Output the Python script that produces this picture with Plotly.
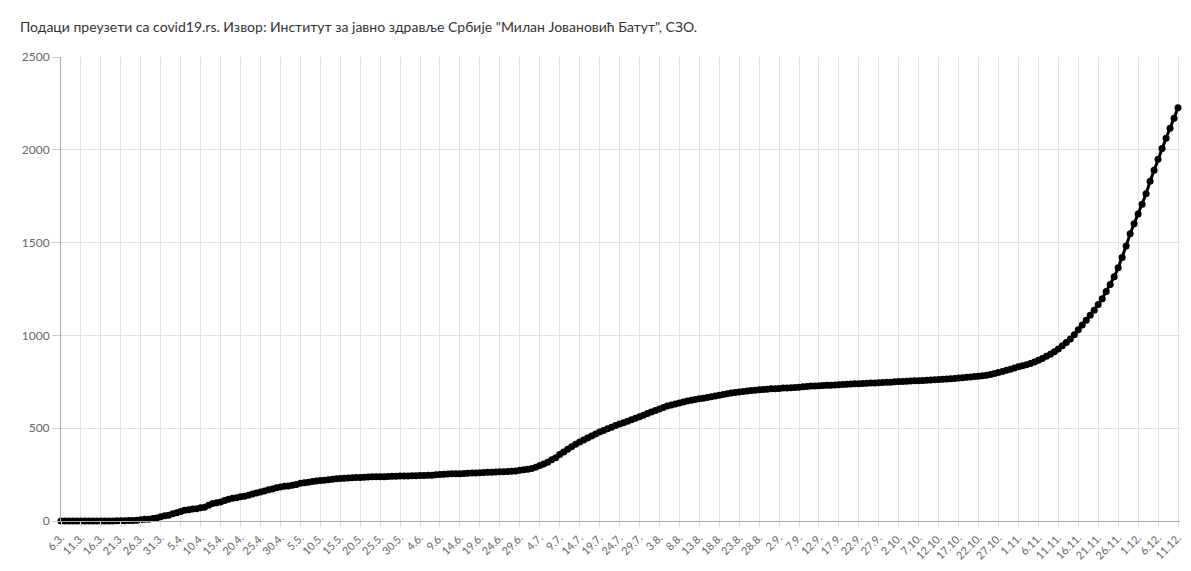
import pandas as pd
from plotly import graph_objects as go

# cumulative deaths, one value per day from 6.3.2020 to 11.12.2020
march = [0] * 14 + [1, 1, 2, 3, 3, 4, 7, 9, 10, 13, 16, 23]
april = [28, 31, 39, 44, 51, 58, 61, 65, 66, 71, 74, 85, 94, 99, 103,
         110, 117, 122, 125, 130, 134, 139, 145, 151, 156, 162, 168, 173, 179, 183]
may = [187, 189, 193, 197, 203, 206, 209, 213, 216, 218, 220, 222, 225, 228, 229,
       230, 232, 233, 234, 235, 236, 237, 238, 238, 239, 239, 240, 241, 241, 242, 243]
june = [243, 244, 244, 245, 245, 246, 247, 249, 250, 252, 253, 254, 254, 255, 256,
        257, 258, 259, 260, 261, 262, 263, 264, 265, 265, 267, 268, 270, 273, 276]
july = [279, 283, 290, 299, 307, 317, 330, 341, 358, 372, 386, 400, 413, 425, 436,
        447, 458, 469, 479, 488, 497, 505, 514, 522, 530, 538, 546, 554, 562, 570, 579]
august = [587, 596, 604, 612, 619, 625, 631, 636, 641, 646, 651, 655, 659, 662, 666,
          669, 673, 677, 681, 685, 689, 692, 695, 698, 701, 703, 705, 707, 709, 710, 712]
september = [713, 714, 716, 717, 718, 719, 721, 723, 725, 727, 728, 729, 730, 731, 732,
             733, 734, 736, 737, 738, 739, 740, 741, 742, 743, 744, 745, 746, 747, 748]
october = [750, 751, 752, 753, 754, 755, 756, 757, 758, 760, 761, 762, 764, 765, 767,
           768, 770, 772, 774, 776, 778, 780, 782, 785, 790, 795, 800, 806, 812, 818, 824]
november = [831, 836, 842, 849, 857, 866, 876, 887, 899, 912, 927, 944, 962, 981, 1004,
            1030, 1056, 1082, 1108, 1135, 1166, 1198, 1236, 1274, 1316, 1364, 1420, 1482, 1548, 1602]
december = [1654, 1706, 1763, 1830, 1890, 1949, 2007, 2062, 2116, 2170, 2227]

deaths = march + april + may + june + july + august + september + october + november + december
days = pd.date_range("2020-03-06", periods=len(deaths), freq="D")

tick_labels = ["6.3.", "11.3.", "16.3.", "21.3.", "26.3.", "31.3.", "5.4.", "10.4.", "15.4.",
               "20.4.", "25.4.", "30.4.", "5.5.", "10.5.", "15.5.", "20.5.", "25.5.", "30.5.",
               "4.6.", "9.6.", "14.6.", "19.6.", "24.6.", "29.6.", "4.7.", "9.7.", "14.7.",
               "19.7.", "24.7.", "29.7.", "3.8.", "8.8.", "13.8.", "18.8.", "23.8.", "28.8.",
               "2.9.", "7.9.", "12.9.", "17.9.", "22.9.", "27.9.", "2.10.", "7.10.", "12.10.",
               "17.10.", "22.10.", "27.10.", "1.11.", "6.11.", "11.11.", "16.11.", "21.11.",
               "26.11.", "1.12.", "6.12.", "11.12."]
tick_days = days[::5]

fig = go.Figure(
    go.Scatter(
        x=days,
        y=deaths,
        mode="lines+markers",
        line=dict(color="#000000", width=3),
        marker=dict(color="#000000", size=7),
        cliponaxis=False,
        hoverinfo="x+y",
        showlegend=False
    )
)

# the page has an 8px body margin, so the figure is sized to fit inside it
fig.update_layout(
    width=1175,
    height=555,
    margin=dict(l=53, r=3, t=49, b=42),
    paper_bgcolor="white",
    plot_bgcolor="white",
    font=dict(family="Lato, sans-serif", color="#666666"),
    annotations=[dict(
        text='Подаци преузети са covid19.rs. Извор: Институт за јавно здравље Србије "Милан Јовановић Батут", СЗО.',
        xref="paper", yref="paper", x=-0.0385, y=1.0, yshift=31,
        xanchor="left", yanchor="middle", showarrow=False,
        font=dict(size=14, color="#333333")
    )]
)
fig.update_xaxes(
    range=[days[0], days[-1] + pd.Timedelta(hours=12)],
    tickvals=tick_days,
    ticktext=tick_labels,
    tickangle=-45,
    tickfont=dict(size=11, color="#666666"),
    ticklabeloverflow="allow",
    showgrid=True,
    gridcolor="#e2e2e2",
    gridwidth=1,
    ticks="outside",
    ticklen=5,
    tickcolor="#e2e2e2",
    showline=True,
    linecolor="#aaaaaa",
    zeroline=False,
    automargin=False
)
fig.update_yaxes(
    range=[0, 2500],
    tickvals=[0, 500, 1000, 1500, 2000, 2500],
    tickfont=dict(size=12, color="#666666"),
    showgrid=True,
    gridcolor="#e2e2e2",
    gridwidth=1,
    ticks="outside",
    ticklen=8,
    tickcolor="#cccccc",
    showline=True,
    linecolor="#aaaaaa",
    zeroline=False,
    automargin=False
)

fig.write_html("out.html")
